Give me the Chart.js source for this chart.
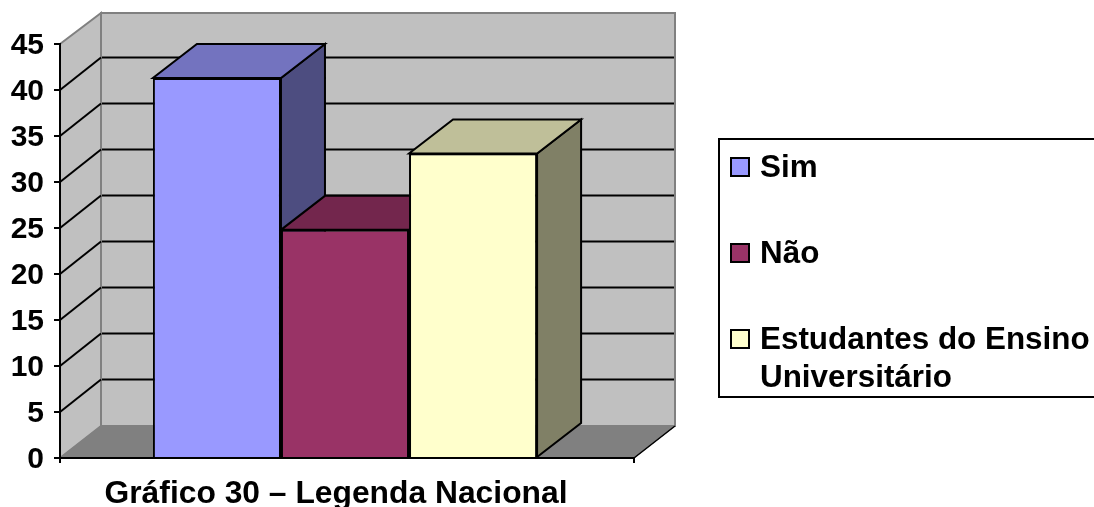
<!DOCTYPE html>
<html>
<head>
<meta charset="utf-8">
<style>html,body{margin:0;padding:0;background:#fff}canvas{display:block}</style>
<script src="https://cdn.jsdelivr.net/npm/chart.js@4"></script>
</head>
<body>
<canvas id="c" width="1094" height="507"></canvas>
<script>
const categories = ["Gráfico 30 – Legenda Nacional"];
const simValues = [41.3];
const naoValues = [24.8];
const estudantesValues = [33.1];
const seriesLabels = ["Sim", "Não", "Estudantes do Ensino Universitário"];
const legendLines = [["Sim"], ["Não"], ["Estudantes do Ensino", "Universitário"]];
const frontColors = ["#9999FF", "#993366", "#FFFFCC"];
const sideColors = ["#4D4D80", "#4D1A33", "#808066"];
const topColors = ["#7373BF", "#73264D", "#BFBF99"];

const FONT = '"Liberation Sans", Arial, sans-serif';
const wall = {dx: 41, dy: 32};
const bar3d = {dx: 44, dy: 34};
const axisEnd = 634;

function poly(ctx, pts, fill, stroke, lw) {
  ctx.beginPath();
  pts.forEach((p, i) => i ? ctx.lineTo(p[0], p[1]) : ctx.moveTo(p[0], p[1]));
  ctx.closePath();
  if (fill) { ctx.fillStyle = fill; ctx.fill(); }
  if (stroke) { ctx.strokeStyle = stroke; ctx.lineWidth = lw; ctx.lineJoin = 'miter'; ctx.stroke(); }
}
function seg(ctx, x1, y1, x2, y2, color, lw) {
  ctx.beginPath(); ctx.moveTo(x1, y1); ctx.lineTo(x2, y2);
  ctx.strokeStyle = color; ctx.lineWidth = lw; ctx.stroke();
}

const scene3d = {
  id: 'scene3d',
  beforeDraw(chart) {
    const {ctx, chartArea: a, scales: {y}} = chart;
    const L = a.left, R = axisEnd, B = y.getPixelForValue(0), T = y.getPixelForValue(45);
    const dx = wall.dx, dy = wall.dy;
    ctx.save();
    poly(ctx, [[L + dx, T - dy + 1], [R + dx, T - dy + 1], [R + dx, B - dy], [L + dx, B - dy]], '#C0C0C0', '#808080', 2);
    poly(ctx, [[L, T], [L + dx, T - dy + 1], [L + dx, B - dy], [L, B]], '#C0C0C0', '#808080', 2);
    poly(ctx, [[L, B], [R, B], [R + dx, B - dy], [L + dx, B - dy]], '#808080', '#808080', 1);
    y.ticks.forEach(t => {
      if (t.value === 0 || t.value === 45) return;
      const p = y.getPixelForValue(t.value);
      seg(ctx, L, p, L + dx, p - dy - 0.5, '#000', 2);
      seg(ctx, L + dx + 1, p - dy - 0.5, R + dx - 1, p - dy - 0.5, '#000', 2);
    });
    seg(ctx, R, B, R + dx, B - dy, '#000', 1.5);
    ctx.restore();
  },
  beforeDatasetsDraw(chart) {
    const {ctx} = chart;
    const dx = bar3d.dx, dy = bar3d.dy;
    ctx.save();
    chart.data.datasets.forEach((ds, i) => {
      const b = chart.getDatasetMeta(i).data[0];
      const l = b.x - b.width / 2, r = b.x + b.width / 2, t = b.y, bs = b.base;
      poly(ctx, [[r, t], [r + dx, t - dy], [r + dx, bs - dy], [r, bs]], sideColors[i], '#000', 2);
      poly(ctx, [[l, t], [r, t], [r + dx, t - dy], [l + dx, t - dy]], topColors[i], '#000', 2);
    });
    ctx.restore();
  },
  afterDraw(chart) {
    const {ctx, chartArea: a, scales: {y}} = chart;
    const B = y.getPixelForValue(0);
    ctx.save();
    seg(ctx, a.left - 6, B, axisEnd, B, '#000', 2);
    seg(ctx, a.left, B, a.left, B + 5, '#000', 2);
    seg(ctx, axisEnd, B, axisEnd, B + 5, '#000', 2);
    ctx.fillStyle = '#000';
    ctx.font = 'bold 31.8px ' + FONT;
    ctx.textAlign = 'center';
    ctx.textBaseline = 'alphabetic';
    ctx.fillText(categories[0], 336, 503);
    ctx.fillStyle = '#fff';
    ctx.fillRect(719, 139, 376, 258);
    ctx.strokeStyle = '#000'; ctx.lineWidth = 2;
    ctx.strokeRect(719, 139, 378, 258);
    const rows = [177, 263, 349];
    ctx.font = 'bold 31.4px ' + FONT;
    ctx.textAlign = 'left';
    legendLines.forEach((lines, i) => {
      const ry = rows[i];
      ctx.fillStyle = frontColors[i];
      ctx.fillRect(731, ry - 19, 18, 18);
      ctx.strokeStyle = '#000'; ctx.lineWidth = 2;
      ctx.strokeRect(731, ry - 19, 18, 18);
      ctx.fillStyle = '#000';
      lines.forEach((ln, k) => ctx.fillText(ln, 760, ry + k * 38));
    });
    ctx.restore();
  }
};

new Chart(document.getElementById('c'), {
  type: 'bar',
  data: {
    labels: categories,
    datasets: [
      {label: seriesLabels[0], data: simValues, backgroundColor: frontColors[0]},
      {label: seriesLabels[1], data: naoValues, backgroundColor: frontColors[1]},
      {label: seriesLabels[2], data: estudantesValues, backgroundColor: frontColors[2]}
    ].map(d => Object.assign(d, {borderColor: '#000', borderWidth: 2, categoryPercentage: 0.674, barPercentage: 1}))
  },
  options: {
    responsive: false,
    animation: false,
    layout: {autoPadding: false, padding: {left: 0, right: 464, top: 44, bottom: 49}},
    plugins: {legend: {display: false}, title: {display: false}, tooltip: {enabled: false}},
    scales: {
      x: {
        ticks: {display: false},
        grid: {display: false},
        border: {display: false},
        afterFit(s) { s.height = 0; }
      },
      y: {
        min: 0, max: 45,
        afterFit(s) {
          s.width = 60;
          if (!s._labelsShifted) {
            s._labelsShifted = true;
            const orig = s.drawLabels;
            s.drawLabels = function (area) {
              const c = s.ctx; c.save(); c.translate(0, 2); orig.call(s, area); c.restore();
            };
          }
        },
        ticks: {stepSize: 5, color: '#000', padding: 10, font: {family: FONT, weight: 'bold', size: 30}},
        grid: {display: true, drawOnChartArea: false, drawTicks: true, tickLength: 6, color: '#000', lineWidth: 2},
        border: {display: true, color: '#000', width: 2}
      }
    }
  },
  plugins: [scene3d]
});
</script>
</body>
</html>
